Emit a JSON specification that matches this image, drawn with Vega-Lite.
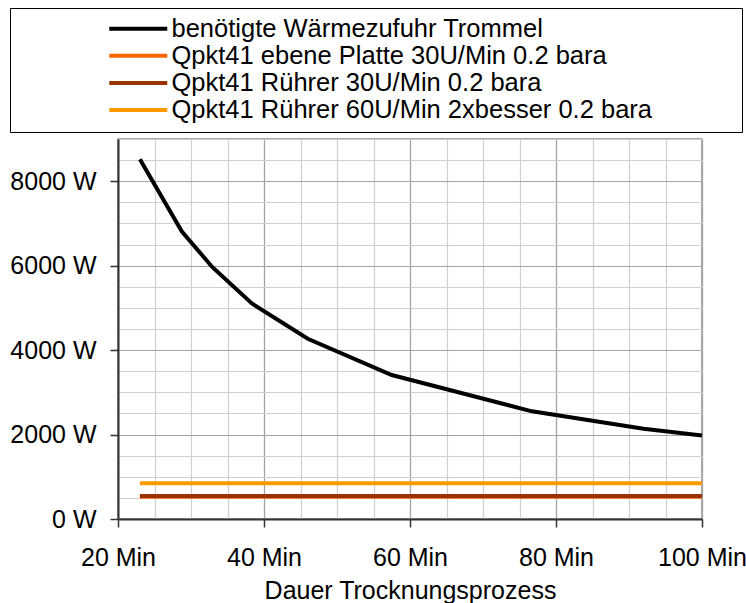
{
  "$schema": "https://vega.github.io/schema/vega-lite/v6.json",
  "autosize": "none",
  "width": 584,
  "height": 380,
  "padding": {"left": 118, "top": 139, "right": 44, "bottom": 84},
  "background": "white",
  "config": {
    "font": "Liberation Sans",
    "view": {"stroke": "#8c8c8c", "strokeWidth": 1.5},
    "axis": {
      "labelFont": "Liberation Sans",
      "titleFont": "Liberation Sans",
      "labelFontSize": 25,
      "titleFontSize": 25,
      "labelColor": "#000",
      "titleColor": "#000",
      "titleFontWeight": "normal"
    },
    "legend": {
      "labelFont": "Liberation Sans",
      "labelFontSize": 25.5,
      "labelColor": "#000"
    }
  },
  "data": {
    "values": [
      {"t": 23, "Q": 8520, "series": "benötigte Wärmezufuhr Trommel"},
      {"t": 28.75, "Q": 6810, "series": "benötigte Wärmezufuhr Trommel"},
      {"t": 32.9, "Q": 5970, "series": "benötigte Wärmezufuhr Trommel"},
      {"t": 38.3, "Q": 5110, "series": "benötigte Wärmezufuhr Trommel"},
      {"t": 46, "Q": 4270, "series": "benötigte Wärmezufuhr Trommel"},
      {"t": 57.5, "Q": 3410, "series": "benötigte Wärmezufuhr Trommel"},
      {"t": 76.7, "Q": 2550, "series": "benötigte Wärmezufuhr Trommel"},
      {"t": 92, "Q": 2140, "series": "benötigte Wärmezufuhr Trommel"},
      {"t": 100, "Q": 1980, "series": "benötigte Wärmezufuhr Trommel"},
      {"t": 23, "Q": 525, "series": "Qpkt41 ebene Platte 30U/Min 0.2 bara"},
      {"t": 100, "Q": 525, "series": "Qpkt41 ebene Platte 30U/Min 0.2 bara"},
      {"t": 23, "Q": 545, "series": "Qpkt41 Rührer 30U/Min 0.2 bara"},
      {"t": 100, "Q": 545, "series": "Qpkt41 Rührer 30U/Min 0.2 bara"},
      {"t": 23, "Q": 846, "series": "Qpkt41 Rührer 60U/Min 2xbesser 0.2 bara"},
      {"t": 100, "Q": 846, "series": "Qpkt41 Rührer 60U/Min 2xbesser 0.2 bara"}
    ]
  },
  "layer": [
    {
      "mark": {"type": "point", "opacity": 0},
      "encoding": {
        "x": {
          "field": "t", "type": "quantitative",
          "scale": {"domain": [20, 100], "nice": false, "zero": false},
          "axis": {
            "orient": "bottom", "title": null, "labels": false, "ticks": false, "domain": false,
            "values": [20,25,30,35,40,45,50,55,60,65,70,75,80,85,90,95,100],
            "grid": true, "gridColor": "#cfcfcf", "gridWidth": 1.2
          }
        },
        "y": {
          "field": "Q", "type": "quantitative",
          "scale": {"domain": [0, 9000], "nice": false},
          "axis": {
            "orient": "left", "title": null, "labels": false, "ticks": false, "domain": false,
            "values": [0,500,1000,1500,2000,2500,3000,3500,4000,4500,5000,5500,6000,6500,7000,7500,8000,8500,9000],
            "grid": true, "gridColor": "#cfcfcf", "gridWidth": 1.2
          }
        }
      }
    },
    {
      "mark": {"type": "line", "strokeWidth": 4},
      "encoding": {
        "x": {
          "field": "t", "type": "quantitative",
          "axis": {
            "orient": "bottom", "title": "Dauer Trocknungsprozess",
            "values": [20, 40, 60, 80, 100],
            "labelExpr": "datum.value + ' Min'",
            "grid": true, "gridColor": "#a3a3a3", "gridWidth": 1.2,
            "domainColor": "#333", "domainWidth": 2,
            "tickColor": "#333", "tickSize": 8, "tickWidth": 1.5,
            "labelPadding": 18, "titlePadding": 8, "labelFlush": false, "labelOverlap": false
          }
        },
        "y": {
          "field": "Q", "type": "quantitative",
          "axis": {
            "orient": "left", "title": null,
            "values": [0, 2000, 4000, 6000, 8000],
            "labelExpr": "datum.value + ' W'",
            "grid": true, "gridColor": "#a3a3a3", "gridWidth": 1.2,
            "domainColor": "#333", "domainWidth": 2,
            "tickColor": "#333", "tickSize": 8, "tickWidth": 1.5,
            "labelPadding": 14, "labelFlush": false, "labelOverlap": false
          }
        },
        "color": {
          "field": "series", "type": "nominal",
          "sort": null,
          "scale": {
            "domain": ["benötigte Wärmezufuhr Trommel", "Qpkt41 ebene Platte 30U/Min 0.2 bara", "Qpkt41 Rührer 30U/Min 0.2 bara", "Qpkt41 Rührer 60U/Min 2xbesser 0.2 bara"],
            "range": ["#000000", "#ff6600", "#993300", "#ff9900"]
          },
          "legend": {
            "orient": "none",
            "legendX": -108,
            "legendY": -131,
            "title": null,
            "direction": "vertical",
            "strokeColor": "#000",
            "padding": 8,
            "symbolType": "M-2.9,0H2.9M58.7,0",
            "symbolSize": 400,
            "symbolStrokeWidth": 4,
            "symbolOffset": 107.5,
            "labelOffset": 20.5,
            "rowPadding": 0.1,
            "labelLimit": 700
          }
        }
      }
    }
  ],
  "resolve": {"axis": {"x": "independent", "y": "independent"}}
}
